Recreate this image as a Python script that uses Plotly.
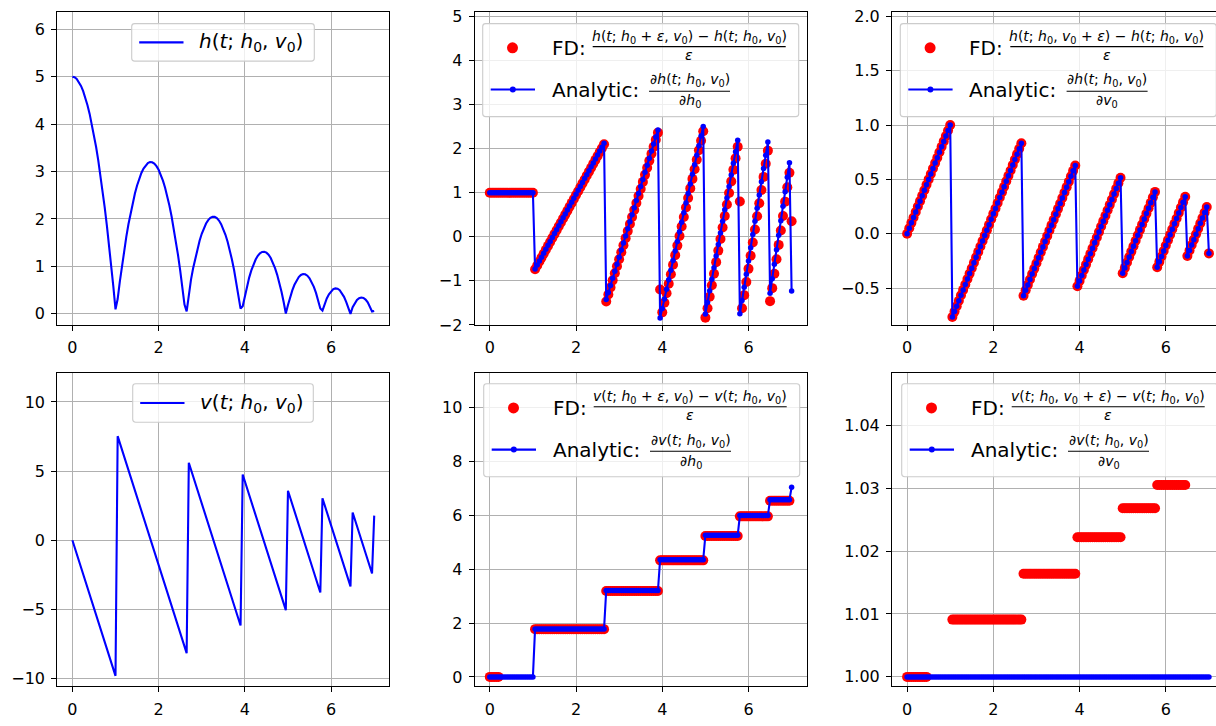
import plotly.graph_objects as go

# ---------------- data ----------------
t = [0.0, 0.05, 0.1, 0.15, 0.2, 0.25, 0.3, 0.35, 0.4, 0.45, 0.5, 0.55, 0.6, 0.65, 0.7, 0.75, 0.8, 0.85, 0.9, 0.95,
     1.0, 1.05, 1.1, 1.15, 1.2, 1.25, 1.3, 1.35, 1.4, 1.45, 1.5, 1.55, 1.6, 1.65, 1.7, 1.75, 1.8, 1.85, 1.9, 1.95,
     2.0, 2.05, 2.1, 2.15, 2.2, 2.25, 2.3, 2.35, 2.4, 2.45, 2.5, 2.55, 2.6, 2.65, 2.7, 2.75, 2.8, 2.85, 2.9, 2.95,
     3.0, 3.05, 3.1, 3.15, 3.2, 3.25, 3.3, 3.35, 3.4, 3.45, 3.5, 3.55, 3.6, 3.65, 3.7, 3.75, 3.8, 3.85, 3.9, 3.95,
     4.0, 4.05, 4.1, 4.15, 4.2, 4.25, 4.3, 4.35, 4.4, 4.45, 4.5, 4.55, 4.6, 4.65, 4.7, 4.75, 4.8, 4.85, 4.9, 4.95,
     5.0, 5.05, 5.1, 5.15, 5.2, 5.25, 5.3, 5.35, 5.4, 5.45, 5.5, 5.55, 5.6, 5.65, 5.7, 5.75, 5.8, 5.85, 5.9, 5.95,
     6.0, 6.05, 6.1, 6.15, 6.2, 6.25, 6.3, 6.35, 6.4, 6.45, 6.5, 6.55, 6.6, 6.65, 6.7, 6.75, 6.8, 6.85, 6.9, 6.95,
     7.0]

h = [5.0, 4.9877, 4.951, 4.8896, 4.8038, 4.6934, 4.5586, 4.3991, 4.2152, 4.0067, 3.7738, 3.5162, 3.2342, 2.9276,
     2.5966, 2.2409, 1.8608, 1.4561, 1.027, 0.5732, 0.095,
     0.3118, 0.676, 1.0155, 1.3306, 1.6212, 1.8872, 2.1287, 2.3457, 2.5381, 2.706, 2.8494, 2.9683, 3.0626, 3.1325,
     3.1778, 3.1985, 3.1948, 3.1665, 3.1137, 3.0364, 2.9345, 2.8081, 2.6572, 2.4818, 2.2818, 2.0574, 1.8084, 1.5348,
     1.2368, 0.9142, 0.5671, 0.1955, 0.05,
     0.4475, 0.7154, 0.9588, 1.1777, 1.3721, 1.5419, 1.6872, 1.8079, 1.9042, 1.9759, 2.0231, 2.0458, 2.0439, 2.0176,
     1.9667, 1.8912, 1.7913, 1.6668, 1.5178, 1.3443, 1.1462, 0.9236, 0.6765, 0.4049, 0.1088,
     0.1601, 0.3854, 0.5862, 0.7625, 0.9142, 1.0414, 1.1441, 1.2222, 1.2758, 1.3049, 1.3095, 1.2896, 1.2451, 1.1761,
     1.0826, 0.9645, 0.8219, 0.6548, 0.4632, 0.2471, 0.0064,
     0.1861, 0.3528, 0.4949, 0.6125, 0.7056, 0.7742, 0.8183, 0.8378, 0.8328, 0.8033, 0.7492, 0.6706, 0.5675, 0.4399,
     0.2878, 0.1111,
     0.068, 0.2073, 0.3222, 0.4126, 0.4784, 0.5197, 0.5365, 0.5287, 0.4964, 0.4396, 0.3583, 0.2524, 0.1221, 0.0,
     0.1381, 0.2262, 0.2898, 0.3289, 0.3435, 0.3335, 0.2991, 0.24, 0.1565, 0.0485,
     0.059]

v = [0.0, -0.4905, -0.981, -1.4715, -1.962, -2.4525, -2.943, -3.4335, -3.924, -4.4145, -4.905, -5.3955, -5.886,
     -6.3765, -6.867, -7.3575, -7.848, -8.3385, -8.829, -9.3195, -9.81,
     7.5277, 7.0372, 6.5467, 6.0562, 5.5657, 5.0752, 4.5847, 4.0942, 3.6037, 3.1132, 2.6227, 2.1322, 1.6417, 1.1512,
     0.6607, 0.1702, -0.3203, -0.8108, -1.3013, -1.7918, -2.2823, -2.7728, -3.2633, -3.7538, -4.2443, -4.7348,
     -5.2253, -5.7158, -6.2063, -6.6968, -7.1873, -7.6778, -8.1683,
     5.6037, 5.1132, 4.6227, 4.1322, 3.6417, 3.1512, 2.6607, 2.1702, 1.6797, 1.1892, 0.6987, 0.2082, -0.2823, -0.7728,
     -1.2633, -1.7538, -2.2443, -2.7348, -3.2253, -3.7158, -4.2063, -4.6968, -5.1873, -5.6778, -6.1683,
     4.7512, 4.2607, 3.7702, 3.2797, 2.7892, 2.2987, 1.8082, 1.3177, 0.8272, 0.3367, -0.1538, -0.6443, -1.1348,
     -1.6253, -2.1158, -2.6063, -3.0968, -3.5873, -4.0778, -4.5683, -5.0588,
     3.5788, 3.0883, 2.5978, 2.1073, 1.6168, 1.1263, 0.6358, 0.1453, -0.3452, -0.8357, -1.3262, -1.8167, -2.3072,
     -2.7977, -3.2882, -3.7787,
     3.0332, 2.5427, 2.0522, 1.5617, 1.0712, 0.5807, 0.0902, -0.4003, -0.8908, -1.3813, -1.8718, -2.3623, -2.8528,
     -3.3433,
     2.0081, 1.5176, 1.0271, 0.5366, 0.0461, -0.4444, -0.9349, -1.4254, -1.9159, -2.4064,
     1.7767]

dhdh0_an = [1.0] * 21 + [
    -0.728, -0.6389, -0.5498, -0.4606, -0.3715, -0.2823, -0.1932, -0.1041, -0.0149, 0.0742, 0.1634, 0.2525, 0.3417,
    0.4308, 0.5199, 0.6091, 0.6982, 0.7874, 0.8765, 0.9656, 1.0548, 1.1439, 1.2331, 1.3222, 1.4113, 1.5005, 1.5896,
    1.6788, 1.7679, 1.8571, 1.9462, 2.0353, 2.1245,
    -1.4235, -1.263, -1.1026, -0.9421, -0.7817, -0.6212, -0.4608, -0.3003, -0.1399, 0.0206, 0.181, 0.3415, 0.5019,
    0.6624, 0.8229, 0.9833, 1.1438, 1.3042, 1.4647, 1.6251, 1.7856, 1.946, 2.1065, 2.2669, 2.4274,
    -1.8447, -1.6272, -1.4097, -1.1922, -0.9747, -0.7572, -0.5397, -0.3222, -0.1047, 0.1128, 0.3303, 0.5478, 0.7653,
    0.9828, 1.2003, 1.4178, 1.6353, 1.8528, 2.0703, 2.2878, 2.5053,
    -1.7522, -1.489, -1.2259, -0.9627, -0.6996, -0.4364, -0.1733, 0.0899, 0.353, 0.6161, 0.8793, 1.1424, 1.4056,
    1.6687, 1.9319, 2.195,
    -1.7457, -1.446, -1.1463, -0.8467, -0.547, -0.2474, 0.0523, 0.352, 0.6516, 0.9513, 1.2509, 1.5506, 1.8502, 2.1499,
    -1.2777, -0.9488, -0.6199, -0.2911, 0.0378, 0.3666, 0.6955, 1.0244, 1.3533, 1.6821,
    -1.2319]

dhdh0_fd = [1.0] * 21 + [
    -0.7374, -0.6487, -0.56, -0.4713, -0.3826, -0.2939, -0.2052, -0.1165, -0.0278, 0.0609, 0.1496, 0.2383, 0.327,
    0.4157, 0.5044, 0.593, 0.6817, 0.7704, 0.8591, 0.9478, 1.0365, 1.1252, 1.2139, 1.3026, 1.3913, 1.48, 1.5687,
    1.6574, 1.7461, 1.8348, 1.9235, 2.0122, 2.1009,
    -1.4668, -1.3072, -1.1475, -0.9878, -0.8282, -0.6686, -0.5089, -0.3492, -0.1896, -0.0299, 0.1297, 0.2894, 0.449,
    0.6087, 0.7683, 0.928, 1.0876, 1.2473, 1.4069, 1.5666, 1.7262, 1.8859, 2.0455, 2.2052, 2.3648,
    -1.196, -1.7142, -1.4978, -1.2814, -1.0649, -0.8485, -0.6321, -0.4157, -0.1993, 0.0171, 0.2336, 0.45, 0.6664,
    0.8828, 1.0992, 1.3156, 1.5321, 1.7485, 1.9649, 2.1813, 2.3977,
    -1.834, -1.6219, -1.3601, -1.0983, -0.8364, -0.5746, -0.3128, -0.051, 0.2109, 0.4727, 0.7345, 0.9963, 1.2582,
    1.52, 1.7818, 2.0437,
    0.8, -1.6213, -1.3231, -1.025, -0.7268, -0.4287, -0.1305, 0.1676, 0.4658, 0.764, 1.0621, 1.3603, 1.6584, 1.9566,
    -1.46, -1.1642, -0.837, -0.5097, -0.1825, 0.1447, 0.4719, 0.7991, 1.1263, 1.4535,
    0.352]

dhdv0 = [0.0, 0.05, 0.1, 0.15, 0.2, 0.25, 0.3, 0.35, 0.4, 0.45, 0.5, 0.55, 0.6, 0.65, 0.7, 0.75, 0.8, 0.85, 0.9,
         0.95, 1.0,
         -0.7673, -0.7173, -0.6673, -0.6173, -0.5673, -0.5173, -0.4673, -0.4173, -0.3673, -0.3173, -0.2673, -0.2173,
         -0.1673, -0.1173, -0.0673, -0.0173, 0.0327, 0.0827, 0.1327, 0.1827, 0.2327, 0.2827, 0.3327, 0.3827, 0.4327,
         0.4827, 0.5327, 0.5827, 0.6327, 0.6827, 0.7327, 0.7827, 0.8327,
         -0.5712, -0.5212, -0.4712, -0.4212, -0.3712, -0.3212, -0.2712, -0.2212, -0.1712, -0.1212, -0.0712, -0.0212,
         0.0288, 0.0788, 0.1288, 0.1788, 0.2288, 0.2788, 0.3288, 0.3788, 0.4288, 0.4788, 0.5288, 0.5788, 0.6288,
         -0.4843, -0.4343, -0.3843, -0.3343, -0.2843, -0.2343, -0.1843, -0.1343, -0.0843, -0.0343, 0.0157, 0.0657,
         0.1157, 0.1657, 0.2157, 0.2657, 0.3157, 0.3657, 0.4157, 0.4657, 0.5157,
         -0.3648, -0.3148, -0.2648, -0.2148, -0.1648, -0.1148, -0.0648, -0.0148, 0.0352, 0.0852, 0.1352, 0.1852,
         0.2352, 0.2852, 0.3352, 0.3852,
         -0.3092, -0.2592, -0.2092, -0.1592, -0.1092, -0.0592, -0.0092, 0.0408, 0.0908, 0.1408, 0.1908, 0.2408,
         0.2908, 0.3408,
         -0.2047, -0.1547, -0.1047, -0.0547, -0.0047, 0.0453, 0.0953, 0.1453, 0.1953, 0.2453,
         -0.1811]

dvdh0_an = [0.0] * 21 + [1.7828] * 33 + [3.2091] * 25 + [4.3501] * 21 + [5.2629] * 16 + [5.9931] * 14 \
    + [6.5773] * 10 + [7.0447]
dvdh0_fd = [0.0] * 5 + [None] * 16 + [1.7738] * 33 + [3.193] * 25 + [4.3283] * 21 + [5.2366] * 16 \
    + [5.9632] * 14 + [6.5444] * 10 + [None]

dvdv0_an = [1.0] * 141
dvdv0_fd = [1.0] * 10 + [None] * 11 + [1.0091] * 33 + [1.0164] * 25 + [1.0222] * 21 + [1.0268] * 16 \
    + [1.0305] * 14 + [None] * 11

for name, arr in [("h", h), ("v", v), ("dhdh0_an", dhdh0_an), ("dhdh0_fd", dhdh0_fd), ("dhdv0", dhdv0),
                  ("dvdh0_an", dvdh0_an), ("dvdh0_fd", dvdh0_fd), ("dvdv0_an", dvdv0_an), ("dvdv0_fd", dvdv0_fd)]:
    if len(arr) != len(t):
        raise ValueError(f"{name} has {len(arr)} values, expected {len(t)}")

# ---------------- layout geometry (pixels) ----------------
W, H = 1216, 726
FONT = "DejaVu Sans"
BLUE = "#0000ff"
RED = "#ff0000"

col_px = [(57.3, 389.3), (474.7, 806.7), (892.0, 1216.0)]
row_px = [(7.3, 326.7), (375.7, 695.7)]
PXU = 43.12  # pixels per unit of t
x_ranges = [[-0.35, 7.35], [-0.35, 7.35], [-0.35, -0.35 + (1216 - 892.0) / PXU]]
y_ranges = [[-0.235, 6.36], [-2.0, 5.1], [-0.84, 2.04], [-10.57, 12.1], [-0.35, 11.29], [0.9985, 1.0483]]
y_ticks = [dict(tick0=0, dtick=1), dict(tick0=0, dtick=1), dict(tick0=0, dtick=0.5, tickformat=".1f"),
           dict(tick0=0, dtick=5), dict(tick0=0, dtick=2), dict(tick0=1.0, dtick=0.01, tickformat=".2f")]


def PX(x):
    return x / W


def PY(y):
    return 1 - y / H


fig = go.Figure()
layout = dict(width=W, height=H, margin=dict(l=0, r=0, t=0, b=0), autosize=False,
              paper_bgcolor="white", plot_bgcolor="white", showlegend=False,
              font=dict(family=FONT, size=16, color="black"))

for k in range(6):
    r, c = divmod(k, 3)
    sfx = "" if k == 0 else str(k + 1)
    x0, x1 = col_px[c]
    y0, y1 = row_px[r]
    common = dict(showline=True, linecolor="black", linewidth=1.1, ticks="outside", ticklen=5,
                  tickwidth=1.1, tickcolor="black", showgrid=True, gridcolor="#b0b0b0", gridwidth=1,
                  zeroline=False, tickfont=dict(family=FONT, size=16, color="black"), ticklabelstandoff=3)
    layout["xaxis" + sfx] = dict(common, domain=[PX(x0), PX(x1)], range=x_ranges[c],
                                 tickvals=[0, 2, 4, 6], anchor="y" + sfx, mirror=True)
    layout["yaxis" + sfx] = dict(common, domain=[PY(y1), PY(y0)], range=y_ranges[k],
                                 anchor="x" + sfx, mirror=(c != 2), **y_ticks[k])

fig.update_layout(**layout)

# simple line plots
fig.add_trace(go.Scatter(x=t, y=h, mode="lines", line=dict(color=BLUE, width=2.1), xaxis="x", yaxis="y"))
fig.add_trace(go.Scatter(x=t, y=v, mode="lines", line=dict(color=BLUE, width=2.1), xaxis="x4", yaxis="y4"))

# FD vs analytic plots
pairs = [(2, dhdh0_fd, dhdh0_an), (3, dhdv0, dhdv0), (5, dvdh0_fd, dvdh0_an), (6, dvdv0_fd, dvdv0_an)]
for k, fd, an in pairs:
    fig.add_trace(go.Scatter(x=t, y=fd, mode="markers", marker=dict(color=RED, size=10, line=dict(width=0)),
                             xaxis="x%d" % k, yaxis="y%d" % k))
    fig.add_trace(go.Scatter(x=t, y=an, mode="lines+markers", line=dict(color=BLUE, width=2.1),
                             marker=dict(color=BLUE, size=5.5, line=dict(width=0)),
                             xaxis="x%d" % k, yaxis="y%d" % k))

# ---------------- hand-drawn legends ----------------
shapes = []
annotations = []


def box(x0, y0, x1, y1, r=3):
    p = (f"M {PX(x0 + r)},{PY(y0)} L {PX(x1 - r)},{PY(y0)} Q {PX(x1)},{PY(y0)} {PX(x1)},{PY(y0 + r)} "
         f"L {PX(x1)},{PY(y1 - r)} Q {PX(x1)},{PY(y1)} {PX(x1 - r)},{PY(y1)} "
         f"L {PX(x0 + r)},{PY(y1)} Q {PX(x0)},{PY(y1)} {PX(x0)},{PY(y1 - r)} "
         f"L {PX(x0)},{PY(y0 + r)} Q {PX(x0)},{PY(y0)} {PX(x0 + r)},{PY(y0)} Z")
    shapes.append(dict(type="path", path=p, xref="paper", yref="paper", layer="above",
                       fillcolor="rgba(255,255,255,0.8)", line=dict(color="#cccccc", width=1.1)))


def hline(x0, x1, y, color, width):
    shapes.append(dict(type="line", xref="paper", yref="paper", x0=PX(x0), x1=PX(x1), y0=PY(y), y1=PY(y),
                       line=dict(color=color, width=width), layer="above"))


def dot(cx, cy, d, color):
    shapes.append(dict(type="circle", xref="paper", yref="paper", xsizemode="pixel", ysizemode="pixel",
                       xanchor=PX(cx), yanchor=PY(cy), x0=-d / 2, x1=d / 2, y0=-d / 2, y1=d / 2,
                       fillcolor=color, line=dict(width=0), layer="above"))


def text(x, y, s, size, anchor="left"):
    annotations.append(dict(x=PX(x), y=PY(y), xref="paper", yref="paper", text=s, showarrow=False,
                            xanchor=anchor, yanchor="middle", font=dict(family=FONT, size=size, color="black"),
                            borderpad=0))


H0 = "<i>h</i><sub>0</sub>"
V0 = "<i>v</i><sub>0</sub>"
EPS = "<i>ε</i>"


def fn(name, a, b):
    return f"<i>{name}</i>(<i>t</i>; {a}, {b})"


# simple legends (left column)
for (bx0, by0, bx1, by1), name in [((131.7, 19, 314.3, 57.3), "h"), ((132.7, 386.7, 313.3, 426.0), "v")]:
    box(bx0, by0, bx1, by1)
    cy = (by0 + by1) / 2
    hline(bx0 + 7.5, bx0 + 51.8, cy, BLUE, 2.1)
    text(bx0 + 66.5, cy, fn(name, H0, V0), 20)

# fraction legends
frac_legends = [
    ((482.7, 19.0), fn("h", f"{H0} + {EPS}", V0) + " − " + fn("h", H0, V0), "∂" + fn("h", H0, V0), "∂" + H0),
    ((900.3, 19.0), fn("h", H0, f"{V0} + {EPS}") + " − " + fn("h", H0, V0), "∂" + fn("h", H0, V0), "∂" + V0),
    ((483.7, 386.7), fn("v", f"{H0} + {EPS}", V0) + " − " + fn("v", H0, V0), "∂" + fn("v", H0, V0), "∂" + H0),
    ((901.7, 386.7), fn("v", H0, f"{V0} + {EPS}") + " − " + fn("v", H0, V0), "∂" + fn("v", H0, V0), "∂" + V0),
]
for (bx, by), fd_num, an_num, an_den in frac_legends:
    box(bx, by, bx + 316, by + 95)
    # FD entry
    dot(bx + 29.8, by + 24.7, 11, RED)
    text(bx + 68, by + 24.7, "FD:", 20)
    hline(bx + 110, bx + 303, by + 23.5, "black", 1.1)
    text(bx + 206.5, by + 14.0, fd_num, 14, "center")
    text(bx + 206.5, by + 32.0, EPS, 14, "center")
    # Analytic entry
    hline(bx + 8, bx + 52.3, by + 67.3, BLUE, 2.1)
    dot(bx + 30.1, by + 67.3, 6, BLUE)
    text(bx + 68, by + 67.3, "Analytic:", 20)
    hline(bx + 166.3, bx + 247.3, by + 69.0, "black", 1.1)
    text(bx + 206.8, by + 58.0, an_num, 14, "center")
    text(bx + 206.8, by + 79.5, an_den, 14, "center")

fig.update_layout(shapes=shapes, annotations=annotations)

fig.write_html("out.html", config={"displayModeBar": False},
               post_script="document.body.style.margin='0';document.body.style.overflow='hidden';")
